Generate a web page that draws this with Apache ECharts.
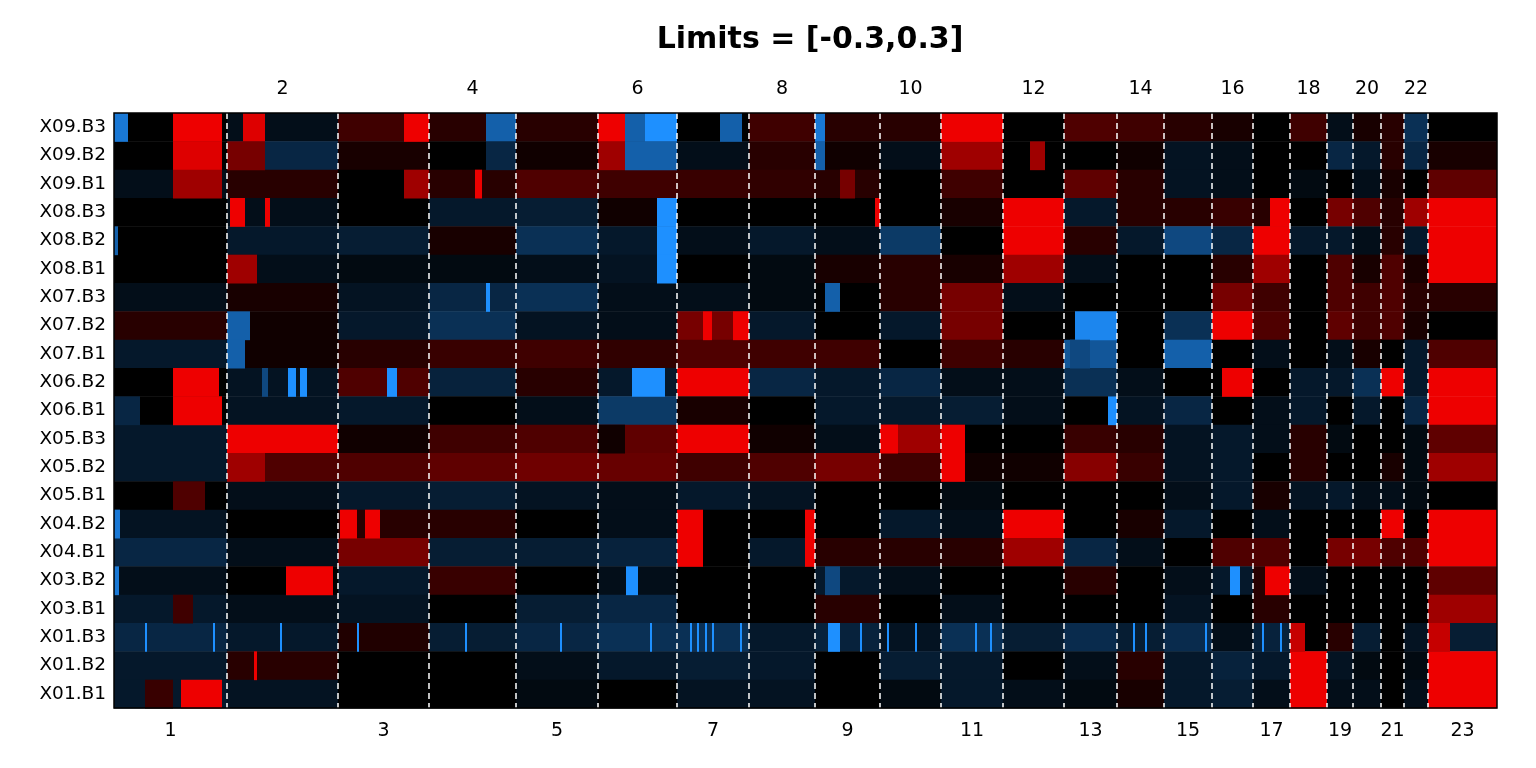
<!DOCTYPE html>
<html>
<head>
<meta charset="utf-8">
<script src="https://cdn.jsdelivr.net/npm/echarts@6/dist/echarts.min.js"></script>
<style>html,body{margin:0;padding:0;background:#fff}#main{width:1536px;height:768px}</style>
</head>
<body>
<div id="main"></div>
<script>
// chromosome boundaries along the genome axis
var chrBounds = [114, 227, 338, 429, 516, 598, 677, 749, 815, 880, 941, 1003, 1064, 1117, 1164, 1212, 1253, 1290, 1327, 1353, 1381, 1404, 1428, 1497];
var chrNames = ['1','2','3','4','5','6','7','8','9','10','11','12','13','14','15','16','17','18','19','20','21','22','23'];

var samples = ['X09.B3','X09.B2','X09.B1','X08.B3','X08.B2','X08.B1','X07.B3','X07.B2','X07.B1','X06.B2','X06.B1',
  'X05.B3','X05.B2','X05.B1','X04.B2','X04.B1','X03.B2','X03.B1','X01.B3','X01.B2','X01.B1'];

// mean value per chromosome (23 per sample)
var X09_B3 = [0.0,-0.03,0.08,0.05,0.05,0.1,0.0,0.08,0.05,0.05,0.3,0.0,0.1,0.08,0.05,0.03,0.0,0.08,-0.03,0.03,0.05,-0.1,0.0];
var X09_B2 = [0.0,-0.08,0.03,0.0,0.02,0.0,-0.03,0.05,0.02,-0.03,0.2,0.0,0.0,0.02,-0.04,-0.03,0.0,0.0,-0.08,-0.05,0.05,-0.08,0.03];
var X09_B1 = [-0.03,0.05,0.0,0.05,0.1,0.08,0.07,0.06,0.05,0.0,0.08,0.0,0.12,0.05,-0.04,-0.03,0.0,-0.02,0.0,-0.03,0.03,0.0,0.12];
var X08_B3 = [0.0,-0.03,0.0,-0.05,-0.06,0.02,0.0,0.0,0.0,0.0,0.03,0.3,-0.05,0.05,0.05,0.07,0.05,0.0,0.15,0.1,0.05,0.2,0.3];
var X08_B2 = [0.0,-0.05,-0.06,0.03,-0.1,-0.05,-0.03,-0.05,-0.03,-0.12,0.0,0.3,0.05,-0.05,-0.15,-0.08,0.3,-0.05,-0.05,-0.03,0.05,-0.05,0.3];
var X08_B1 = [0.0,-0.03,-0.02,-0.02,-0.03,-0.04,0.0,-0.02,0.03,0.05,0.03,0.2,-0.03,0.0,0.0,0.05,0.2,0.0,0.1,0.03,0.1,0.03,0.3];
var X07_B3 = [-0.03,0.03,-0.04,-0.08,-0.1,-0.03,-0.03,-0.02,0.0,0.05,0.15,-0.03,0.0,0.0,0.0,0.15,0.08,0.0,0.1,0.08,0.1,0.05,0.05];
var X07_B2 = [0.05,0.02,-0.05,-0.1,-0.04,-0.03,0.15,-0.05,0.0,-0.05,0.15,0.0,0.0,0.0,-0.1,0.3,0.1,0.0,0.12,0.08,0.1,0.03,0.0];
var X07_B1 = [-0.05,0.02,0.05,0.07,0.08,0.06,0.1,0.08,0.08,0.0,0.08,0.05,-0.18,0.0,-0.2,0.0,-0.03,0.0,-0.03,0.03,0.0,-0.05,0.1];
var X06_B2 = [0.0,-0.04,0.1,-0.07,0.05,-0.05,0.3,-0.08,-0.05,-0.08,-0.03,-0.03,-0.1,-0.03,0.0,0.0,0.0,-0.05,-0.05,-0.1,0.3,-0.05,0.3];
var X06_B1 = [0.0,-0.04,-0.05,0.0,-0.03,-0.12,0.03,0.0,-0.05,-0.05,-0.06,-0.03,0.0,-0.04,-0.08,0.0,-0.03,-0.05,0.0,-0.05,0.0,-0.08,0.3];
var X05_B3 = [-0.05,0.3,0.02,0.08,0.1,0.12,0.3,0.02,-0.03,0.2,0.0,0.0,0.07,0.05,-0.04,-0.05,-0.03,0.05,-0.02,0.0,0.0,-0.02,0.12];
var X05_B2 = [-0.05,0.1,0.1,0.12,0.14,0.13,0.08,0.1,0.15,0.08,0.02,0.02,0.17,0.07,-0.04,-0.05,0.0,0.05,0.0,0.0,0.03,-0.02,0.2];
var X05_B1 = [0.0,-0.03,-0.05,-0.06,-0.04,-0.03,-0.05,-0.04,0.0,0.0,-0.02,0.0,0.0,0.0,-0.03,-0.05,0.03,-0.04,-0.05,-0.03,-0.03,-0.02,0.0];
var X04_B2 = [-0.04,0.0,0.05,0.05,0.0,-0.03,0.0,0.0,0.0,-0.05,-0.03,0.3,0.0,0.03,-0.05,0.0,-0.03,0.0,0.0,0.0,0.3,0.0,0.3];
var X04_B1 = [-0.08,-0.03,0.15,-0.06,-0.06,-0.07,0.0,-0.05,0.05,0.05,0.05,0.2,-0.08,-0.03,0.0,0.1,0.1,0.0,0.15,0.15,0.1,0.1,0.3];
var X03_B2 = [-0.03,0.0,-0.05,0.07,0.0,-0.03,0.0,0.0,-0.05,-0.03,0.0,0.0,0.05,0.0,-0.03,-0.05,0.05,-0.03,0.0,0.0,0.0,0.0,0.12];
var X03_B1 = [-0.05,-0.03,-0.04,0.0,-0.06,-0.08,0.0,0.0,0.05,0.0,-0.03,0.0,0.0,0.0,-0.04,0.0,0.05,0.0,0.0,0.0,0.0,0.0,0.2];
var X01_B3 = [-0.08,-0.05,0.04,-0.06,-0.08,-0.1,-0.1,-0.05,-0.07,-0.04,-0.1,-0.06,-0.09,-0.06,-0.09,-0.03,-0.07,0.0,0.05,-0.06,0.0,-0.04,-0.06];
var X01_B2 = [-0.05,0.05,0.0,0.0,-0.03,-0.05,-0.06,-0.05,0.0,-0.06,-0.05,0.0,-0.03,0.05,-0.05,-0.07,-0.05,0.3,-0.04,-0.02,0.0,-0.02,0.3];
var X01_B1 = [-0.05,-0.04,0.0,0.0,-0.02,0.0,-0.04,-0.04,0.0,-0.02,-0.05,-0.03,-0.02,0.03,-0.05,-0.06,-0.03,0.3,-0.03,-0.03,0.0,-0.03,0.3];
var chrMeans = [X09_B3,X09_B2,X09_B1,X08_B3,X08_B2,X08_B1,X07_B3,X07_B2,X07_B1,X06_B2,X06_B1,
  X05_B3,X05_B2,X05_B1,X04_B2,X04_B1,X03_B2,X03_B1,X01_B3,X01_B2,X01_B1];

// focal segments: [sample index, start, end, value]
var focal = [
  [0,114,128,-0.25],[0,173,222,0.3],[0,243,265,0.28],[0,404,429,0.3],[0,486,516,-0.2],[0,598,625,0.3],[0,625,645,-0.2],[0,645,677,-0.3],[0,720,742,-0.2],[0,815,825,-0.25],[0,943,1003,0.3],
  [1,173,222,0.28],[1,227,265,0.15],[1,486,516,-0.08],[1,598,625,0.2],[1,625,677,-0.2],[1,815,825,-0.2],[1,1030,1045,0.2],
  [2,173,222,0.2],[2,404,429,0.2],[2,475,482,0.3],[2,840,855,0.15],
  [3,230,245,0.3],[3,265,270,0.3],[3,657,677,-0.3],[3,875,880,0.3],[3,1270,1290,0.3],
  [4,114,118,-0.2],[4,657,677,-0.3],
  [5,227,257,0.2],[5,657,677,-0.3],
  [6,486,490,-0.3],[6,825,840,-0.2],
  [7,227,250,-0.2],[7,703,712,0.3],[7,733,749,0.3],[7,1075,1117,-0.28],
  [8,227,245,-0.2],[8,1070,1090,-0.15],
  [9,173,219,0.3],[9,262,268,-0.15],[9,288,296,-0.3],[9,300,307,-0.3],[9,387,397,-0.3],[9,632,665,-0.3],[9,1222,1253,0.3],
  [10,114,140,-0.08],[10,173,222,0.3],[10,1108,1117,-0.3],
  [11,598,625,0.02],[11,880,898,0.3],[11,941,965,0.3],
  [12,227,265,0.2],[12,941,965,0.3],
  [13,173,205,0.1],
  [14,114,120,-0.25],[14,340,357,0.3],[14,365,380,0.3],[14,677,703,0.3],[14,805,815,0.3],
  [15,677,703,0.3],[15,805,815,0.3],
  [16,114,119,-0.25],[16,286,333,0.3],[16,626,638,-0.3],[16,825,840,-0.15],[16,1230,1240,-0.3],[16,1265,1290,0.3],
  [17,173,193,0.08],
  [18,1290,1305,0.25],[18,1428,1450,0.25],[18,828,840,-0.3],
  [18,145,147,-0.3],[18,213,215,-0.3],[18,280,282,-0.3],[18,357,359,-0.3],[18,465,467,-0.3],[18,560,562,-0.3],[18,650,652,-0.3],
  [18,690,692,-0.3],[18,697,699,-0.3],[18,705,707,-0.3],[18,712,714,-0.3],[18,740,742,-0.3],[18,860,862,-0.3],[18,887,889,-0.3],
  [18,915,917,-0.3],[18,975,977,-0.3],[18,990,992,-0.3],[18,1133,1135,-0.3],[18,1145,1147,-0.3],[18,1205,1207,-0.3],[18,1262,1264,-0.3],[18,1280,1282,-0.3],
  [19,254,257,0.3],
  [20,145,173,0.07],[20,181,222,0.3]
];

var segments = [];
chrMeans.forEach(function (row, i) {
  row.forEach(function (v, c) {
    segments.push([chrBounds[c], chrBounds[c + 1], i, v]);
  });
});
focal.forEach(function (f) { segments.push([f[1], f[2], f[0], f[3]]); });

var centers = [];
for (var c = 0; c < chrNames.length; c++) centers.push((chrBounds[c] + chrBounds[c + 1]) / 2);
var oddCenters = centers.filter(function (v, i) { return i % 2 === 0; });
var evenCenters = centers.filter(function (v, i) { return i % 2 === 1; });
function chrLabel(v) {
  var i = centers.indexOf(v);
  return i >= 0 ? chrNames[i] : '';
}

var chart = echarts.init(document.getElementById('main'));
var option = {
  backgroundColor: '#fff',
  title: {
    text: 'Limits = [-0.3,0.3]',
    left: 805, top: 20, textAlign: 'center',
    textStyle: { fontFamily: 'DejaVu Sans', fontSize: 30, fontWeight: 'bold', color: '#000' }
  },
  grid: { left: 114, right: 39, top: 113, bottom: 60, show: true, borderColor: '#000', borderWidth: 1.5, backgroundColor: 'transparent', z: 10 },
  visualMap: {
    show: false, dimension: 3, min: -0.3, max: 0.3, seriesIndex: 0,
    inRange: { color: ['#1e90ff', '#000000', '#ee0000'] }
  },
  xAxis: [{
    type: 'value', min: 114, max: 1497, position: 'bottom',
    axisLine: { show: false }, splitLine: { show: false },
    axisTick: { show: false },
    axisLabel: { customValues: oddCenters, formatter: chrLabel, fontFamily: 'DejaVu Sans', fontSize: 19, color: '#000', margin: 14 }
  }, {
    type: 'value', min: 114, max: 1497, position: 'top',
    axisLine: { show: false }, splitLine: { show: false },
    axisTick: { show: false },
    axisLabel: { customValues: evenCenters, formatter: chrLabel, fontFamily: 'DejaVu Sans', fontSize: 19, color: '#000', margin: 14 }
  }],
  yAxis: {
    type: 'category', data: samples, inverse: true,
    axisLine: { show: false }, axisTick: { show: false }, splitLine: { show: false },
    axisLabel: { fontFamily: 'DejaVu Sans', fontSize: 18.5, color: '#000', margin: 8 }
  },
  series: [{
    type: 'custom',
    data: segments,
    encode: { x: [0, 1], y: 2 },
    renderItem: function (params, api) {
      var p0 = api.coord([api.value(0), api.value(2)]);
      var p1 = api.coord([api.value(1), api.value(2)]);
      var h = api.size([0, 1])[1];
      return {
        type: 'rect',
        shape: { x: p0[0], y: p0[1] - h / 2, width: Math.max(p1[0] - p0[0], 1), height: h + 0.5 },
        style: { fill: api.visual('color') }
      };
    }
  }, {
    // chromosome separators
    type: 'custom',
    data: chrBounds.slice(1, -1).map(function (b) { return [b, 0]; }),
    encode: { x: 0 },
    z: 5,
    renderItem: function (params, api) {
      var x = api.coord([api.value(0), 0])[0];
      var cs = params.coordSys;
      return {
        type: 'line',
        shape: { x1: x, y1: cs.y, x2: x, y2: cs.y + cs.height },
        style: { stroke: '#fff', lineWidth: 1.5, lineDash: [6, 4] }
      };
    }
  }]
};
chart.setOption(option);
</script>
</body>
</html>
